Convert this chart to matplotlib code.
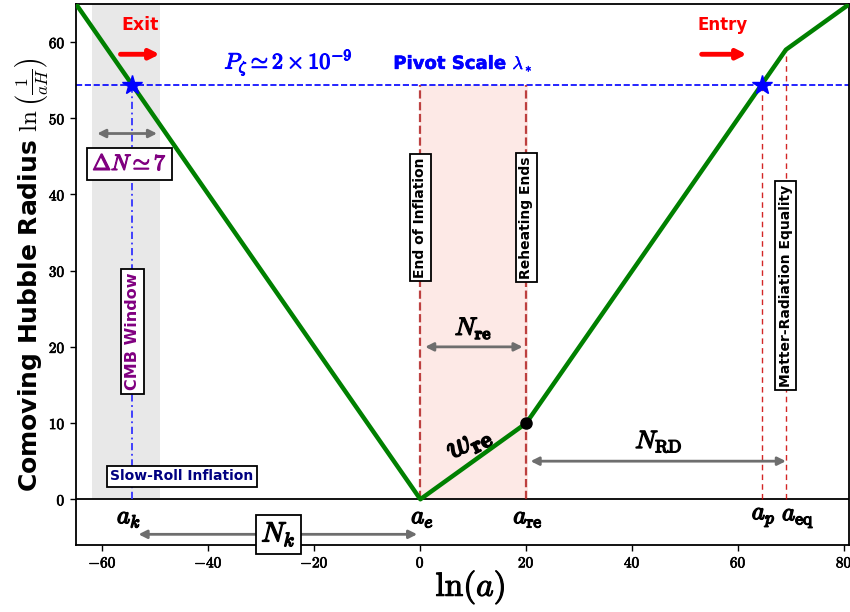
import matplotlib
matplotlib.use("Agg")
import matplotlib.pyplot as plt
import matplotlib.patheffects as pe
import numpy as np

plt.rcParams['mathtext.fontset'] = 'cm'
plt.rcParams['font.family'] = ['DejaVu Sans']

# ---- data ----
curve_x = [-65, 0, 20, 69, 81]
curve_y = [65, 0, 10, 59, 65]
pivot_y = 54.4
a_k = -54.4
a_e = 0
a_re = 20
a_p = 64.4
a_eq = 69
y_eq = 59
reheat_point = (20, 10)
cmb_window = (-62, -49.2)
xticks = [-60, -40, -20, 0, 20, 40, 60, 80]
yticks = [0, 10, 20, 30, 40, 50, 60]


def bold(w=0.9, c='black'):
    return [pe.withStroke(linewidth=w, foreground=c)]


fig = plt.figure(figsize=(8.5, 6.12), dpi=100)
ax = fig.add_axes([0.0894, 0.1095, 0.9100, 0.884])
ax.set_xlim(-65, 81)
ax.set_ylim(-6, 65)

# shaded regions
ax.axvspan(cmb_window[0], cmb_window[1], ymin=6/71, ymax=1, color='#e8e8e8', zorder=0, lw=0)
ax.axvspan(a_e, a_re + 0.3, ymin=6/71, ymax=(pivot_y + 6)/71, color='#fde9e6', zorder=0, lw=0)

# horizontal zero line
ax.axhline(0, color='black', lw=1.3, zorder=1)

# pivot line
ax.axhline(pivot_y, color='blue', ls='--', lw=1.2, zorder=2)

# vertical lines
ax.plot([a_k, a_k], [0, pivot_y], color='#3333ff', lw=1.3, zorder=2, dashes=(4, 2, 1, 2))
ax.plot([a_e, a_e], [0, pivot_y], color='#b22222', ls='--', lw=1.6, alpha=0.85, zorder=2)
ax.plot([a_re, a_re], [0, pivot_y], color='#b22222', ls='--', lw=1.6, alpha=0.85, zorder=2)
ax.plot([a_p, a_p], [0, pivot_y], color='#cc0000', lw=1.0, alpha=0.85, zorder=2, dashes=(4, 3))
ax.plot([a_eq, a_eq], [0, y_eq], color='#cc0000', lw=1.0, alpha=0.85, zorder=2, dashes=(4, 3))

# main curve
ax.plot(curve_x, curve_y, color='green', lw=3.2, zorder=4)
ax.plot([reheat_point[0]], [reheat_point[1]], 'o', color='black', ms=8, zorder=5)
ax.plot([a_k, a_p], [pivot_y, pivot_y], '*', color='blue', ms=15, zorder=6)

# arrows
gray = '#6e6e6e'
def darrow(x0, x1, y):
    ax.annotate('', xy=(x1, y), xytext=(x0, y),
                arrowprops=dict(arrowstyle='<|-|>', color=gray, lw=2, mutation_scale=12,
                                shrinkA=0, shrinkB=0), zorder=3)

darrow(-61, -49.7, 48)
darrow(-53.2, -0.6, -4.6)
darrow(0.9, 19.3, 20.0)
darrow(20.8, 69, 5.0)

def rarrow(x0, x1, y):
    ax.annotate('', xy=(x1, y), xytext=(x0, y),
                arrowprops=dict(arrowstyle='-|>', color='red', lw=3.5, mutation_scale=14,
                                shrinkA=0, shrinkB=0), zorder=3)
rarrow(-56.6, -49.2, 58.4)
rarrow(53.1, 61.6, 58.4)

# texts
ax.text(-53.0, 62.2, 'Exit', color='red', fontsize=12.5, fontweight='bold', ha='center', va='center')
ax.text(57.0, 62.2, 'Entry', color='red', fontsize=12, fontweight='bold', ha='center', va='center')
ax.text(-24.9, 57.3, r'$P_\zeta \simeq 2\times 10^{-9}$', color='blue', fontsize=16,
        ha='center', va='center', path_effects=bold(0.8, 'blue'))
ax.text(8.0, 57.2, r'Pivot Scale $\lambda_*$', color='blue', fontsize=13,
        fontweight='bold', ha='center', va='center', path_effects=bold(0.4, 'blue'))

box = dict(boxstyle='square,pad=0.25', fc='white', ec='black', lw=1.3)
ax.text(-54.9, 44.0, r'$\Delta N \simeq 7$', color='purple', fontsize=16,
        ha='center', va='center', bbox=box, zorder=7, path_effects=bold(0.9, 'purple'))
ax.text(a_k, 22.0, 'CMB Window', color='purple', fontsize=11.5, fontweight='bold', rotation=90,
        ha='center', va='center', bbox=box, zorder=7)
ax.text(-45.0, 3.0, 'Slow-Roll Inflation', color='navy', fontsize=10, fontweight='bold',
        ha='center', va='center', bbox=box, zorder=7)
ax.text(a_e, 37.0, 'End of Inflation', color='black', fontsize=10, fontweight='bold', rotation=90,
        ha='center', va='center', bbox=box, zorder=7)
ax.text(a_re, 37.0, 'Reheating Ends', color='black', fontsize=10, fontweight='bold', rotation=90,
        ha='center', va='center', bbox=box, zorder=7)
ax.text(a_eq, 28.0, 'Matter-Radiation Equality', color='black', fontsize=10, fontweight='bold',
        rotation=90, ha='center', va='center', bbox=box, zorder=7)

ax.text(-26.8, -4.6, r'$N_k$', color='black', fontsize=20, ha='center', va='center',
        bbox=dict(boxstyle='square,pad=0.2', fc='white', ec='black', lw=1.3), zorder=7,
        path_effects=bold(1.0))
ax.text(10.0, 22.4, r'$N_{\mathbf{re}}$', fontsize=18, ha='center', va='center',
        path_effects=bold(1.0))
ax.text(45.0, 7.5, r'$N_{\mathrm{RD}}$', fontsize=18, ha='center', va='center',
        path_effects=bold(1.0))
ax.text(9.0, 7.6, r'$w_{\mathbf{re}}$', fontsize=24, ha='center', va='center', rotation=27,
        path_effects=bold(1.2))

for xx, lab in [(-55, r'$a_k$'), (0.4, r'$a_e$'),
                (20.3, r'$a_{\mathrm{re}}$'), (64.8, r'$a_p$'),
                (71.3, r'$a_{\mathrm{eq}}$')]:
    ax.text(xx, -2.4, lab, fontsize=18, ha='center', va='center', path_effects=bold(1.0))

# ticks
ax.set_xticks(xticks)
ax.set_yticks(yticks)
ax.set_xticklabels([r'$\mathbf{%d}$' % v for v in xticks], fontsize=11)
ax.set_yticklabels([r'$\mathbf{%d}$' % v for v in yticks], fontsize=11)
for lbl in ax.get_xticklabels() + ax.get_yticklabels():
    lbl.set_path_effects(bold(0.5))
ax.tick_params(direction='out', length=4, width=1)
for s in ax.spines.values():
    s.set_linewidth(1.3)

ax.set_xlabel(r'$\ln(a)$', fontsize=24, labelpad=0, path_effects=bold(0.8))
ax.xaxis.set_label_coords(0.51, -0.043)
ax.xaxis.label.set_va('top')
ax.set_ylabel(r'Comoving Hubble Radius $\ln\left(\frac{1}{aH}\right)$',
              fontsize=18, fontweight='bold')
ax.yaxis.set_label_coords(-0.034, 0.5)

fig.savefig('out.png', dpi=100)
